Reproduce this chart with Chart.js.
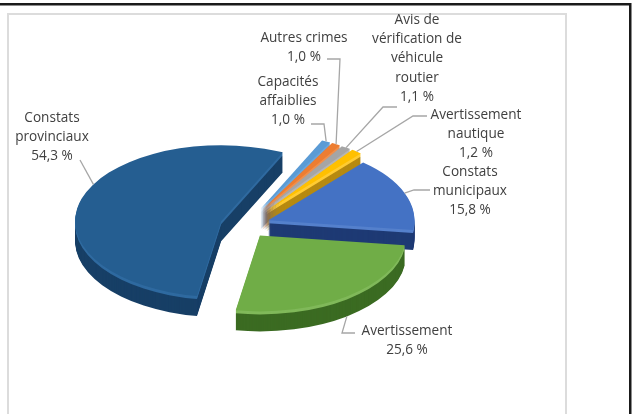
<!DOCTYPE html>
<html>
<head>
<meta charset="utf-8">
<script src="https://cdn.jsdelivr.net/npm/chart.js@4.4.0/dist/chart.umd.min.js"></script>
<style>
  html, body { margin: 0; padding: 0; background: #fff; }
  #wrap { position: relative; width: 636px; height: 414px; overflow: hidden; }
  canvas { position: absolute; left: 0; top: 0; }
</style>
</head>
<body>
<div id="wrap"><canvas id="pie" width="636" height="414"></canvas></div>
<script>
// slices, clockwise from the first one
var categories = ['Capacités affaiblies', 'Autres crimes', 'Avis de vérification de véhicule routier',
  'Avertissement nautique', 'Constats municipaux', 'Avertissement', 'Constats provinciaux'];
var shares = [1.0, 1.0, 1.1, 1.2, 15.8, 25.6, 54.3];
var labelLines = [
  ['Capacités', 'affaiblies'],
  ['Autres crimes'],
  ['Avis de', 'vérification de', 'véhicule', 'routier'],
  ['Avertissement', 'nautique'],
  ['Constats', 'municipaux'],
  ['Avertissement'],
  ['Constats', 'provinciaux']
];
var topColors = ['#5B9BD5', '#ED7D31', '#A5A5A5', '#FFC000', '#4472C4', '#70AD47', '#255E91'];
var sideColors = ['#3a6c9c', '#b0581d', '#747474', '#b78a10', '#1e3a74', '#3b6b22', '#173f66'];
var rimColors = ['#6aa6dc', '#f08f4c', '#b5b5b5', '#ffcc33', '#5580cc', '#80b95a', '#2f6aa0'];

// where the labels sit, where their leader lines start, and where on the arc they end (0..1)
var labelPos = [
  {x: 288, y: 82, lead: [[311, 124], [324, 124]], at: 0.5},
  {x: 304, y: 38, lead: [[327, 59], [340, 59]], at: 0.5},
  {x: 417, y: 20, lead: [[397, 107], [383, 107]], at: 0.5},
  {x: 476, y: 115, lead: [[427, 116], [413, 116]], at: 0.5},
  {x: 470, y: 172, lead: [[430, 190], [414, 190]], at: 0.5},
  {x: 407, y: 331, lead: [[355, 333], [342, 333]], at: 0.5},
  {x: 52, y: 118, lead: [[80, 160], [80, 160]], at: 0.56}
];

// 3D look
var SX = 245, SY = 225;   // screen centre of the pie
var TILT = 0.52;          // vertical squash
var DEPTH = 20;           // thickness
var explode = [34, 34, 34, 34, 25, 25, 25];

function pctText(v) { return v.toFixed(1).replace('.', ',') + ' %'; }

function drawArc(ctx, el, i, shiftY, fill) {
  var mid = (el.startAngle + el.endAngle) / 2;
  var fake = Object.create(el);
  fake.options = Object.assign({}, el.options, {backgroundColor: fill, borderColor: fill, borderWidth: 0, offset: 0});
  ctx.save();
  ctx.translate(SX, SY + shiftY);
  ctx.scale(1, TILT);
  ctx.translate(-el.x, -el.y);
  ctx.translate(Math.cos(mid) * explode[i], Math.sin(mid) * explode[i]);
  el.draw.call(fake, ctx);
  ctx.restore();
}

var framePlugin = {
  id: 'frame',
  beforeDraw: function(chart) {
    var ctx = chart.ctx;
    ctx.save();
    ctx.fillStyle = '#fff';
    ctx.fillRect(0, 0, 636, 414);
    ctx.strokeStyle = '#dcdcdc';
    ctx.lineWidth = 2;
    ctx.strokeRect(8, 14, 558, 420);
    ctx.fillStyle = '#1a1a1a';
    ctx.fillRect(0, 3, 631, 2.5);
    ctx.fillRect(629, 3, 2.5, 411);
    ctx.restore();
  }
};

var pie3dPlugin = {
  id: 'pie3d',
  beforeDatasetsDraw: function(chart) {
    var ctx = chart.ctx;
    var arcs = chart.getDatasetMeta(0).data.map(function(el, i) { return {el: el, i: i}; });
    // back slices first
    arcs.sort(function(a, b) {
      return Math.sin((a.el.startAngle + a.el.endAngle) / 2) - Math.sin((b.el.startAngle + b.el.endAngle) / 2);
    });
    arcs.forEach(function(a) {
      for (var d = DEPTH; d >= 1; d--) {
        drawArc(ctx, a.el, a.i, d, d <= 3 ? rimColors[a.i] : sideColors[a.i]);
      }
      drawArc(ctx, a.el, a.i, 0, topColors[a.i]);
    });
    return false;
  },
  afterDraw: function(chart) {
    var ctx = chart.ctx;
    var meta = chart.getDatasetMeta(0);
    ctx.save();
    ctx.font = '13.6px "Open Sans"';
    ctx.textAlign = 'center';
    ctx.textBaseline = 'middle';
    meta.data.forEach(function(el, i) {
      var p = labelPos[i];
      var lines = labelLines[i].concat([pctText(shares[i])]);
      ctx.fillStyle = '#404040';
      lines.forEach(function(t, k) { ctx.fillText(t, p.x, p.y + k * 19.3); });
      // leader line to the slice rim
      var mid = (el.startAngle + el.endAngle) / 2;
      var a = el.startAngle + (el.endAngle - el.startAngle) * p.at;
      var cx = SX + Math.cos(mid) * explode[i], cy = SY + Math.sin(mid) * explode[i] * TILT;
      var ex = cx + Math.cos(a) * el.outerRadius;
      var ey = cy + Math.sin(a) * el.outerRadius * TILT + (Math.sin(a) > 0.5 ? DEPTH : 0);
      ctx.strokeStyle = '#a6a6a6';
      ctx.lineWidth = 1.3;
      ctx.beginPath();
      ctx.moveTo(p.lead[0][0], p.lead[0][1]);
      ctx.lineTo(p.lead[1][0], p.lead[1][1]);
      ctx.lineTo(ex, ey);
      ctx.stroke();
    });
    ctx.restore();
  }
};

new Chart('pie', {
  type: 'pie',
  data: {
    labels: categories,
    datasets: [{
      data: shares,
      backgroundColor: topColors,
      borderWidth: 0,
      radius: 146
    }]
  },
  options: {
    responsive: false,
    animation: false,
    devicePixelRatio: 1,
    rotation: 25,
    events: [],
    layout: { padding: {left: 75, right: 221, top: 37, bottom: 37} },
    plugins: { legend: { display: false }, tooltip: { enabled: false } }
  },
  plugins: [framePlugin, pie3dPlugin]
});
</script>
</body>
</html>
